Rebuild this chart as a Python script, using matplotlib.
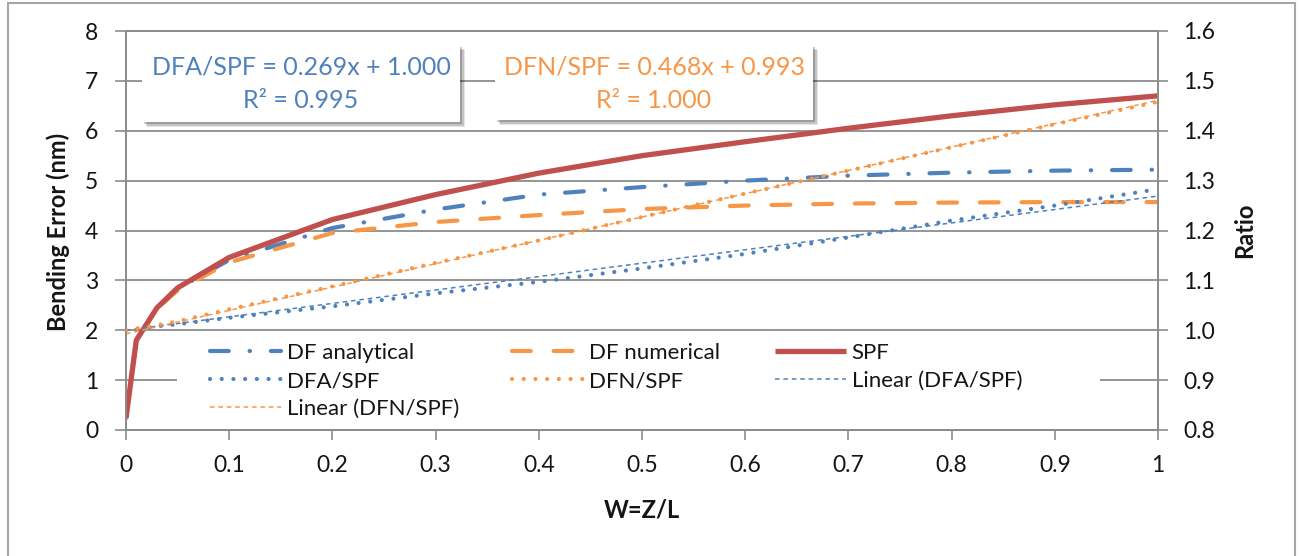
import matplotlib
matplotlib.use("Agg")
import matplotlib.pyplot as plt
from matplotlib.patches import Rectangle
import numpy as np

plt.rcParams['font.family'] = ['Lato', 'DejaVu Sans']

# ---------------- data ----------------
w = [0, 0.01, 0.03, 0.05, 0.1, 0.2, 0.3, 0.4, 0.5, 0.6, 0.7, 0.8, 0.9, 1.0]
df_analytical = [0.24, 1.8, 2.44, 2.83, 3.41, 4.05, 4.42, 4.72, 4.87, 5.0, 5.1, 5.16, 5.2, 5.22]
df_numerical = [0.24, 1.8, 2.43, 2.8, 3.36, 3.95, 4.17, 4.31, 4.43, 4.5, 4.54, 4.56, 4.57, 4.57]
spf = [0.24, 1.8, 2.45, 2.85, 3.46, 4.22, 4.72, 5.15, 5.5, 5.78, 6.05, 6.3, 6.52, 6.7]
dfa_spf = [1.0, 1.003, 1.008, 1.012, 1.025, 1.048, 1.074, 1.097, 1.124, 1.153, 1.186, 1.22, 1.25, 1.283]
dfn_spf = [1.0, 1.003, 1.01, 1.018, 1.042, 1.088, 1.135, 1.18, 1.227, 1.274, 1.32, 1.367, 1.413, 1.458]
trend_names = ['DFA/SPF', 'DFN/SPF']
trend_slope = [0.269, 0.468]
trend_intercept = [1.000, 0.993]
trend_r2 = [0.995, 1.000]
trend_x = [0.0, 1.0]

x_ticks = [0, 0.1, 0.2, 0.3, 0.4, 0.5, 0.6, 0.7, 0.8, 0.9, 1.0]
x_ticklabels = ['0', '0.1', '0.2', '0.3', '0.4', '0.5', '0.6', '0.7', '0.8', '0.9', '1']
y1_ticks = [0, 1, 2, 3, 4, 5, 6, 7, 8]
y2_ticks = [0.8, 0.9, 1.0, 1.1, 1.2, 1.3, 1.4, 1.5, 1.6]
y2_ticklabels = ['0.8', '0.9', '1.0', '1.1', '1.2', '1.3', '1.4', '1.5', '1.6']

# ---------------- style ----------------
BLUE = '#4F81BD'
RED = '#C0504D'
ORANGE = '#F79646'
GRID = '#8C8C8C'
TXT = '#151515'
TICK_FS = 16.5
LEG_FS = 16
TITLE_FS = 17
EQ_FS = 18

W, H = 1299, 556
fig = plt.figure(figsize=(W / 100, H / 100), dpi=100)


def fx(px):
    return px / W


def fy(py):
    return 1 - py / H


L, R, T, B = 126, 1158, 31, 430
ax1 = fig.add_axes([fx(L), fy(B), (R - L) / W, (B - T) / H])
ax2 = ax1.twinx()

# left axis series
l_dfa, = ax1.plot(w, df_analytical, color=BLUE, lw=3.0,
                  linestyle=(0, (4.5, 5, 0.1, 5)), dash_capstyle='round',
                  label='DF analytical', zorder=3)
l_dfn, = ax1.plot(w, df_numerical, color=ORANGE, lw=3.0,
                  linestyle=(0, (4.5, 5.5)), dash_capstyle='round',
                  label='DF numerical', zorder=3)
l_spf, = ax1.plot(w, spf, color=RED, lw=3.8, solid_capstyle='butt',
                  label='SPF', zorder=4)

# right axis series
l_ra, = ax2.plot(w, dfa_spf, color=BLUE, lw=3.0, linestyle=(0, (0.01, 2.8)),
                 dash_capstyle='round', label='DFA/SPF', zorder=3)
l_rn, = ax2.plot(w, dfn_spf, color=ORANGE, lw=3.0, linestyle=(0, (0.01, 2.8)),
                 dash_capstyle='round', label='DFN/SPF', zorder=3)
tr_lines = []
for i, c in enumerate([BLUE, ORANGE]):
    ty = [trend_slope[i] * xx + trend_intercept[i] for xx in trend_x]
    ln, = ax2.plot(trend_x, ty, color=c, lw=1.1, linestyle=(0, (3, 2.5)),
                   label='Linear (%s)' % trend_names[i], zorder=2)
    tr_lines.append(ln)

ax1.set_xlim(0, 1)
ax1.set_ylim(0, 8)
ax2.set_ylim(0.8, 1.6)
ax1.set_xticks(x_ticks)
ax1.set_xticklabels(x_ticklabels)
ax1.set_yticks(y1_ticks)
ax2.set_yticks(y2_ticks)
ax2.set_yticklabels(y2_ticklabels)

ax1.yaxis.grid(True, color=GRID, lw=1.3)
ax1.set_axisbelow(True)
for ax in (ax1, ax2):
    for s in ax.spines.values():
        s.set_color(GRID)
        s.set_linewidth(1.3)
ax1.tick_params(axis='y', direction='out', length=8, width=1.2, color=GRID,
                labelsize=TICK_FS, labelcolor=TXT, pad=12)
ax1.tick_params(axis='x', direction='out', length=7, width=1.2, color=GRID,
                labelsize=TICK_FS, labelcolor=TXT, pad=11)
ax2.tick_params(axis='y', direction='out', length=7, width=1.2, color=GRID,
                labelsize=TICK_FS, labelcolor=TXT, pad=11)

# axis titles
fig.text(fx(58), fy(232), 'Bending Error (nm)', rotation=90, ha='center', va='center',
         fontsize=TITLE_FS, fontweight='bold', color=TXT)
fig.text(fx(1245), fy(230), 'Ratio', rotation=90, ha='center', va='center',
         fontsize=TITLE_FS, fontweight='bold', color=TXT)
fig.text(fx(642), fy(510), 'W=Z/L', ha='center', va='center',
         fontsize=TITLE_FS, fontweight='bold', color=TXT)

# legend background
fig.patches.append(Rectangle((fx(177), fy(425)), (1100 - 177) / W, (425 - 337) / H,
                             transform=fig.transFigure, facecolor='white',
                             edgecolor='none', zorder=1))

cols = [([l_dfa, l_ra, tr_lines[1]], 210),
        ([l_dfn, l_rn], 512),
        ([l_spf, tr_lines[0]], 775)]
for hs, xpx in cols:
    leg = fig.legend(handles=hs, labels=[h.get_label() for h in hs],
                     loc='upper left', bbox_to_anchor=(fx(xpx), fy(343)),
                     bbox_transform=fig.transFigure, frameon=False,
                     fontsize=LEG_FS, handlelength=3.2, handletextpad=0.25,
                     labelspacing=0.36, borderpad=0, borderaxespad=0)
    leg.set_zorder(2)
    for t in leg.get_texts():
        t.set_color(TXT)

# equation boxes with shadows
boxes = [(142, 45, 460, 122, BLUE), (495, 45, 813, 120, ORANGE)]
for i, (x0, y0, x1, y1, c) in enumerate(boxes):
    for k, a in enumerate([0.10, 0.14, 0.2]):
        off = 5 - k * 1.3
        fig.patches.append(Rectangle((fx(x0 + off), fy(y1 + off)), (x1 - x0) / W,
                                     (y1 - y0) / H, transform=fig.transFigure,
                                     facecolor='black', alpha=a, edgecolor='none',
                                     zorder=2))
    fig.patches.append(Rectangle((fx(x0), fy(y1)), (x1 - x0) / W, (y1 - y0) / H,
                                 transform=fig.transFigure, facecolor='white',
                                 edgecolor='none', zorder=3))
    cx = (x0 + x1) / 2
    fig.text(fx(cx), fy(67), '%s = %.3fx + %.3f' % (trend_names[i], trend_slope[i],
                                                    trend_intercept[i]),
             ha='center', va='center', fontsize=EQ_FS, color=c, zorder=4)
    fig.text(fx(cx), fy(100), 'R² = %.3f' % trend_r2[i],
             ha='center', va='center', fontsize=EQ_FS, color=c, zorder=4)

# chart frame
fig.patches.append(Rectangle((fx(8), fy(H + 20)), (1295 - 8) / W, (H + 20 - 3) / H,
                             transform=fig.transFigure, fill=False,
                             edgecolor='#A6A6A6', lw=1.5, zorder=5))

fig.savefig('out.png', dpi=100, facecolor='white')
